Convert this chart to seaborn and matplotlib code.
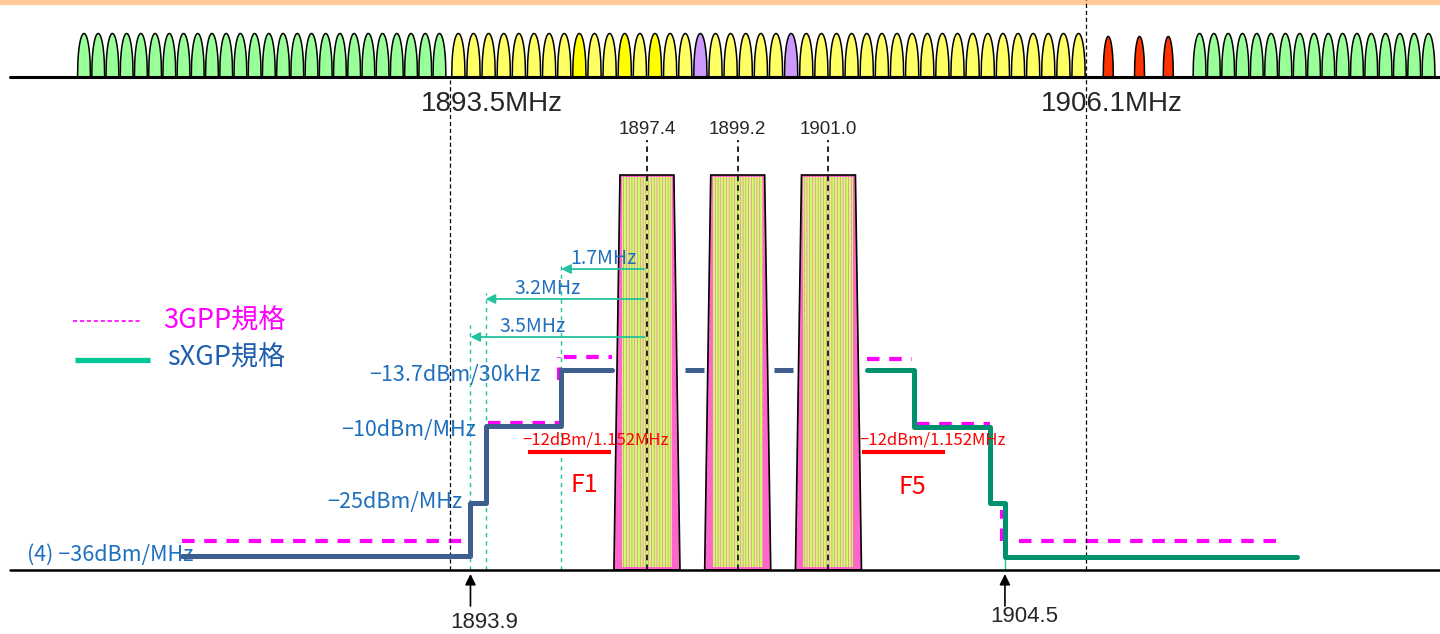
import numpy as np
import matplotlib
matplotlib.use("Agg")
import matplotlib.pyplot as plt
from matplotlib.patches import Polygon, Rectangle
import seaborn as sns

# ---- data (x in MHz, y in schematic height units above the baseline) ----
# PHS channel comb on top: start frequency, raster, colour code per channel
comb_left_start, comb_left_step = 1886.225, 0.282
comb_left_codes = "g" * 26
comb_mid_start, comb_mid_step = 1893.65, 0.3
comb_mid_codes = "yyyyyyyyYyyYyYyyp" + "yyyyyp" + "y" * 19
comb_red_freqs = [1906.54, 1907.16, 1907.73]
comb_right_start, comb_right_step = 1908.35, 0.2838
comb_right_codes = "g" * 17
comb_colors = {"g": "#99FF99", "y": "#FFFF66", "Y": "#FFFF00",
               "p": "#CC99FF", "r": "#FF3300"}

band_edges = [1893.5, 1906.1]
carrier_freqs = [1897.4, 1899.2, 1901.0]
carrier_labels = ["1897.4", "1899.2", "1901.0"]

# sXGP mask (F1 lower side, F5 upper side)
sxgp_f1_x = [1888.18, 1893.9, 1893.9, 1894.2, 1894.2, 1895.7, 1895.7, 1896.70]
sxgp_f1_y = [14, 14, 67, 67, 144, 144, 200, 200]
sxgp_gap_x = [[1898.15, 1898.53], [1899.92, 1900.30]]
sxgp_f5_x = [1901.76, 1902.7, 1902.7, 1904.2, 1904.2, 1904.5, 1904.5, 1910.29]
sxgp_f5_y = [200, 200, 143, 143, 67, 67, 13, 13]

# 3GPP mask pieces
gpp_segments = [
    ([1888.18, 1893.75], [29, 29]),
    ([1894.25, 1895.65], [147, 147]),
    ([1895.65, 1895.65], [190, 213]),
    ([1895.75, 1896.70], [213, 213]),
    ([1901.76, 1902.65], [211, 211]),
    ([1902.75, 1904.20], [146, 146]),
    ([1904.45, 1904.45], [29, 60]),
    ([1904.78, 1910.06], [29, 29]),
]

# offsets from F1 centre
offset_mhz = [1.7, 3.2, 3.5]
offset_labels = ["1.7MHz", "3.2MHz", "3.5MHz"]
offset_arrow_h = [301, 271, 233]
offset_line_top = [308, 277, 245]
offset_label_x = [1896.53, 1895.44, 1895.14]

level_labels = ["\u221213.7dBm/30kHz", "\u221210dBm/MHz", "\u221225dBm/MHz"]
level_label_x = [1895.30, 1894.01, 1893.73]
level_label_h = [195, 140, 68]

# ---- style ----
sns.set_theme(style="white")
plt.rcParams["font.family"] = ["Noto Sans CJK JP", "DejaVu Sans"]
plt.rcParams["hatch.color"] = "#FF66CC"
plt.rcParams["hatch.linewidth"] = 0.45
plt.rcParams["lines.scale_dashes"] = False

fig = plt.figure(figsize=(14.4, 6.34), dpi=100)
ax = fig.add_axes([0, 0, 1, 1])
ax.set_xlim(1884.569, 1913.129)
ax.set_ylim(-64, 570)
ax.axis("off")

blue_txt = "#1F6FBF"
cyan = "#22C39C"
num_font = ["Liberation Sans", "DejaVu Sans"]

# orange strip on top
ax.axhspan(565, 570, color="#FFCC99", lw=0)

# ---- top channel comb ----
comb_base = 493
t = np.linspace(-1, 1, 41)
dome = (1 - t ** 2) ** 0.45


def bump(fc, half, height, color):
    ax.fill_between(fc + half * t, comb_base, comb_base + height * dome,
                    facecolor=color, edgecolor="black", lw=1.1, zorder=3)


for i, c in enumerate(comb_left_codes):
    bump(comb_left_start + i * comb_left_step, 0.128, 44, comb_colors[c])
for i, c in enumerate(comb_mid_codes):
    bump(comb_mid_start + i * comb_mid_step, 0.132, 44, comb_colors[c])
for f in comb_red_freqs:
    bump(f, 0.1, 41, comb_colors["r"])
for i, c in enumerate(comb_right_codes):
    bump(comb_right_start + i * comb_right_step, 0.128, 44, comb_colors[c])
ax.plot([1884.77, 1913.2], [comb_base, comb_base], color="black", lw=2.2, zorder=4)

# band edges
ax.plot([band_edges[0]] * 2, [0, 490], color="black", lw=0.9, dashes=(3, 2), zorder=5)
ax.plot([band_edges[1]] * 2, [0, 570], color="black", lw=0.9, dashes=(3, 2), zorder=5)
ax.text(1894.33, 466, "1893.5MHz", fontsize=20, ha="center", va="center", family=num_font)
ax.text(1906.62, 466, "1906.1MHz", fontsize=20, ha="center", va="center", family=num_font)

# ---- sXGP carriers ----
for fc, lab in zip(carrier_freqs, carrier_labels):
    ax.add_patch(Polygon([(fc - 0.655, 0), (fc - 0.535, 395), (fc + 0.535, 395),
                          (fc + 0.655, 0)], closed=True, facecolor="#FF66CC",
                         edgecolor="black", lw=1.2, zorder=2))
    ax.add_patch(Rectangle((fc - 0.495, 3), 0.99, 390, facecolor="#CCFF66",
                           edgecolor="#FF66CC", lw=0, hatch="||||||", zorder=2.1))
    ax.plot([fc, fc], [0, 430], color="#222222", lw=1.4, dashes=(4, 3), zorder=5)
    ax.text(fc, 440, lab, fontsize=13.5, ha="center", va="center", family=num_font)

# ---- offset guides ----
f1 = carrier_freqs[0]
for off, lab, ah, lt, lx in zip(offset_mhz, offset_labels, offset_arrow_h,
                                offset_line_top, offset_label_x):
    ax.plot([f1 - off] * 2, [0, lt], color=cyan, lw=1.0, dashes=(3, 3), zorder=3)
    ax.annotate("", xy=(f1 - off, ah), xytext=(f1 - 0.05, ah),
                arrowprops=dict(arrowstyle="-|>", color=cyan, lw=1.3,
                                mutation_scale=14, shrinkA=0, shrinkB=0), zorder=6)
    ax.text(lx, ah + 11, lab, fontsize=14, color=blue_txt, ha="center", va="center")

# ---- masks ----
for xs, ys in gpp_segments:
    ax.plot(xs, ys, color="#FF00FF", lw=3, dashes=(9, 7), zorder=4,
            solid_capstyle="butt", dash_capstyle="butt")

sns.lineplot(x=sxgp_f1_x, y=sxgp_f1_y, sort=False, estimator=None, ax=ax,
             color="#3E5F8E", lw=3.6, zorder=5)
for xs in sxgp_gap_x:
    ax.plot(xs, [200, 200], color="#3E5F8E", lw=3.6, zorder=5, solid_capstyle="butt")
sns.lineplot(x=sxgp_f5_x, y=sxgp_f5_y, sort=False, estimator=None, ax=ax,
             color="#00916E", lw=3.6, zorder=5)
ax.plot([1904.5, 1904.5], [0, 13], color=cyan, lw=1.0, zorder=4)

for lab, lx, lh in zip(level_labels, level_label_x, level_label_h):
    ax.text(lx, lh, lab, fontsize=15.5, color=blue_txt, ha="right", va="center")
ax.text(1885.10, 15, "(4) \u221236dBm/MHz", fontsize=15.5, color=blue_txt,
        ha="left", va="center", zorder=4)

# F1 / F5 limits
for tx, bx in [(1894.92, (1895.04, 1896.69)), (1901.62, (1901.66, 1903.31))]:
    ax.text(tx, 130, "\u221212dBm/1.152MHz", fontsize=12, color="red",
            ha="left", va="center", zorder=6)
    ax.plot(bx, [118, 118], color="red", lw=3, zorder=6, solid_capstyle="butt")
ax.text(1896.15, 85, "F1", fontsize=18, color="red", ha="center", va="center")
ax.text(1902.67, 83, "F5", fontsize=18, color="red", ha="center", va="center")

# legend
ax.plot([1886.02, 1887.34], [249, 249], color="#FF00FF", lw=1.2, dashes=(3, 2))
ax.text(1887.80, 249, "3GPP規格", fontsize=19.5, color="#FF00FF", ha="left", va="center")
ax.plot([1886.06, 1887.54], [210, 210], color="#00C896", lw=3.8, solid_capstyle="butt")
ax.text(1887.88, 212, "sXGP規格", fontsize=19.5, color="#1F5FAF", ha="left", va="center")

# baseline and bottom markers
ax.plot([1884.77, 1913.2], [0, 0], color="black", lw=1.8, zorder=6)
for fx, lx, lh, lab in [(1893.9, 1894.17, -53, "1893.9"), (1904.5, 1904.88, -47, "1904.5")]:
    ax.annotate("", xy=(fx, -4), xytext=(fx, -36),
                arrowprops=dict(arrowstyle="-|>", color="black", lw=1.2,
                                mutation_scale=16, shrinkA=0, shrinkB=0))
    ax.text(lx, lh, lab, fontsize=16, ha="center", va="center", family=num_font)

fig.savefig("out.png", dpi=100)
